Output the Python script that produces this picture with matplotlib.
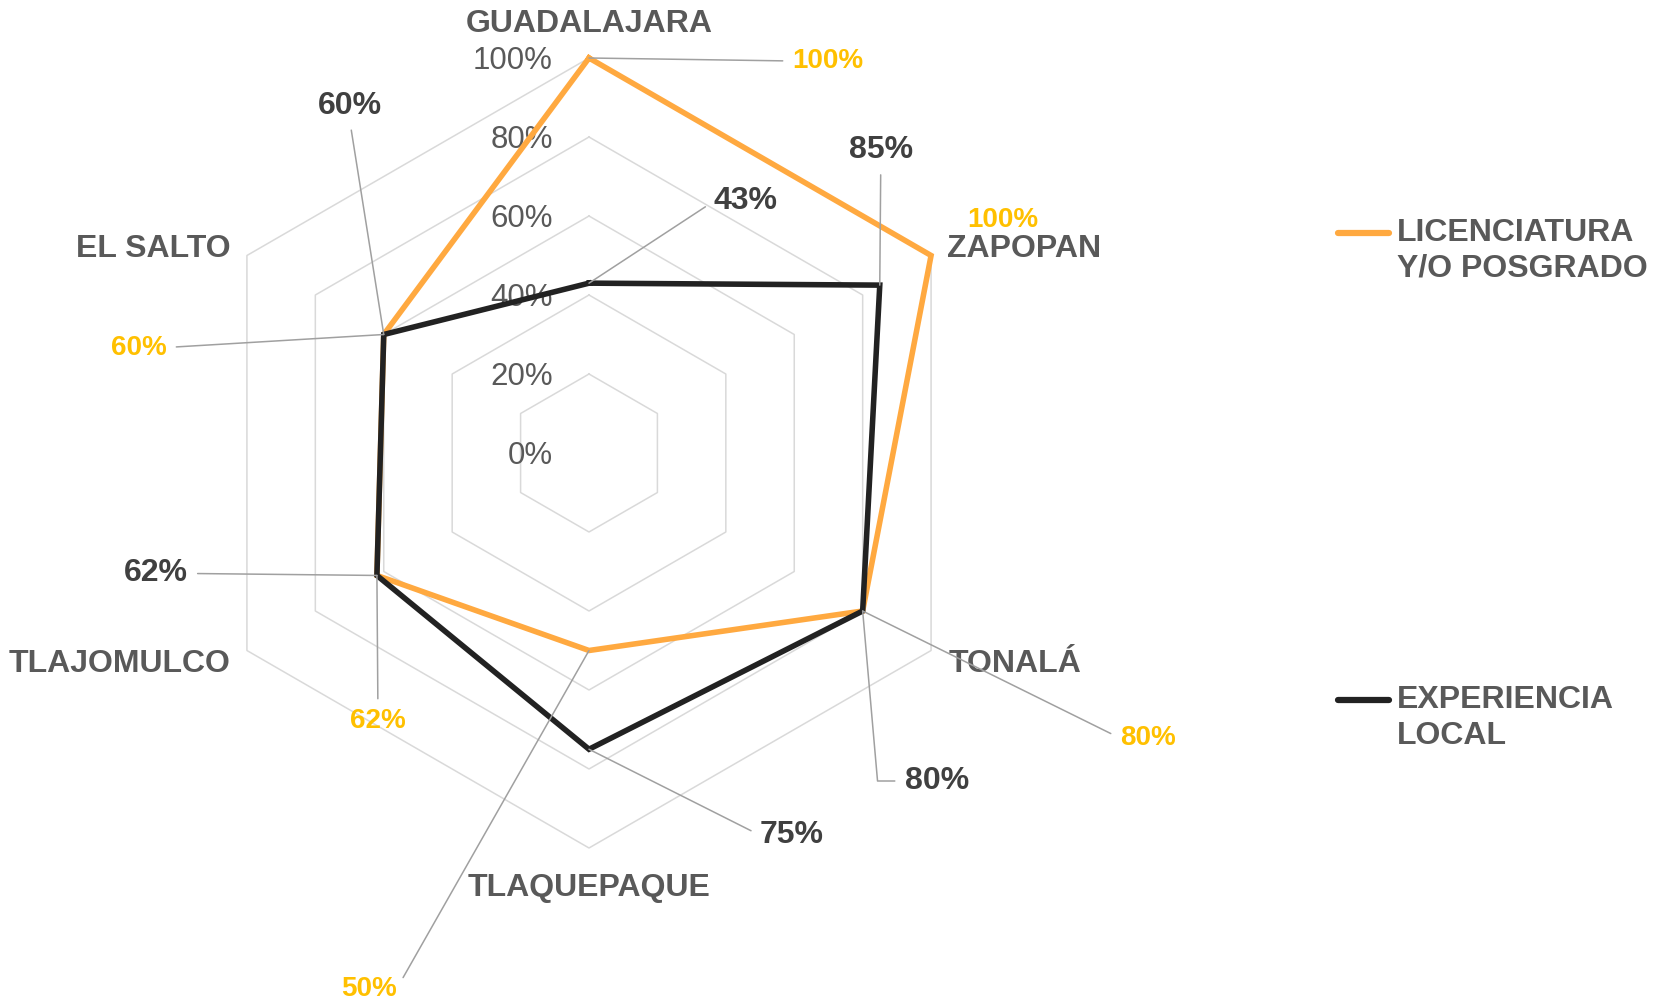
# %% LIBRARY
import numpy as np
import matplotlib
matplotlib.use("Agg")
import matplotlib.pyplot as plt
from matplotlib.lines import Line2D

plt.rcParams["font.family"] = ["Liberation Sans", "DejaVu Sans"]

# %% DATA
categorias = ["GUADALAJARA", "ZAPOPAN", "TONALÁ", "TLAQUEPAQUE", "TLAJOMULCO", "EL SALTO"]
licenciatura = [1.00, 1.00, 0.80, 0.50, 0.62, 0.60]
experiencia = [0.43, 0.85, 0.80, 0.75, 0.62, 0.60]
niveles = [0.0, 0.2, 0.4, 0.6, 0.8, 1.0]
serie_nombres = ["LICENCIATURA\nY/O POSGRADO", "EXPERIENCIA\nLOCAL"]

# %% STYLE
c_lic = "#FFA940"
c_lic_txt = "#FFC000"
c_exp = "#222222"
c_exp_txt = "#404040"
c_cat = "#595959"
c_grid = "#D9D9D9"
c_lead = "#A0A0A0"

# offsets (pixels) of labels relative to their point, plus where the leader line attaches
cat_off = [(0, 34, "center"), (16, 7, "left"), (18, -13, "left"),
           (0, -40, "center"), (-16, -13, "right"), (-16, 7, "right")]
lic_off = [(239, -3), (72, 36), (285, -127), (-220, -338), (1, -146), (-245, -13)]
lic_rel = [(0, 0.5), None, (0, 0.5), (1, 0.5), (0.5, 1), (1, 0.5)]
exp_off = [(157, 82), (1, 135), (74, -170), (203, -86), (-221, 2), (-34, 229)]
exp_rel = [(0, 0.5), (0.5, 0), (0, 0.5), (0, 0.5), (1, 0.5), (0.5, 0)]
exp_conn = ["arc3", "arc3", "angle,angleA=0,angleB=95,rad=0", "arc3", "arc3", "arc3"]

W, H = 1665, 1005
fig = plt.figure(figsize=(W / 100, H / 100), dpi=100)
ax = fig.add_axes([(589 - 395) / W, (H - 453 - 395) / H, 790 / W, 790 / H],
                  projection="polar")
ax.set_theta_zero_location("N")
ax.set_theta_direction(-1)
ax.set_ylim(0, 1)
ax.axis("off")

n = len(categorias)
theta = np.arange(n) * 2 * np.pi / n
theta_c = np.append(theta, theta[0])

# hexagonal grid
for lv in niveles[1:]:
    ax.plot(theta_c, [lv] * (n + 1), color=c_grid, lw=1.1, zorder=1, clip_on=False)

# radial tick labels
for lv in niveles:
    ax.annotate(f"{lv:.0%}", xy=(0, lv), xytext=(-36, -3), textcoords="offset pixels",
                ha="right", va="center", fontsize=22.5, color=c_cat, zorder=2)

# series
ax.plot(theta_c, np.append(licenciatura, licenciatura[0]), color=c_lic, lw=4,
        zorder=4, clip_on=False, solid_joinstyle="miter")
ax.plot(theta_c, np.append(experiencia, experiencia[0]), color=c_exp, lw=4,
        zorder=5, clip_on=False, solid_joinstyle="miter")

# category labels
for t, cat, (dx, dy, ha) in zip(theta, categorias, cat_off):
    ax.annotate(cat, xy=(t, 1.0), xytext=(dx, dy), textcoords="offset pixels",
                ha=ha, va="center", fontsize=23, fontweight="bold", color=c_cat)

# data labels
for t, v, (dx, dy), rel in zip(theta, licenciatura, lic_off, lic_rel):
    arrow = None
    if rel is not None:
        arrow = dict(arrowstyle="-", color=c_lead, lw=1.1, shrinkA=5, shrinkB=0,
                     relpos=rel)
    ax.annotate(f"{v:.0%}", xy=(t, v), xytext=(dx, dy), textcoords="offset pixels",
                ha="center", va="center", fontsize=20, fontweight="bold",
                color=c_lic_txt, zorder=6, arrowprops=arrow)

for t, v, (dx, dy), rel, cs in zip(theta, experiencia, exp_off, exp_rel, exp_conn):
    ax.annotate(f"{v:.0%}", xy=(t, v), xytext=(dx, dy), textcoords="offset pixels",
                ha="center", va="center", fontsize=23, fontweight="bold",
                color=c_exp_txt, zorder=6,
                arrowprops=dict(arrowstyle="-", color=c_lead, lw=1.1, shrinkA=5,
                                shrinkB=0, relpos=rel, connectionstyle=cs))

# legend
for nombre, col, y in zip(serie_nombres, [c_lic, c_exp], [233, 700]):
    fig.add_artist(Line2D([1338 / W, 1389 / W], [1 - y / H, 1 - y / H], color=col,
                          lw=4.5, solid_capstyle="round", transform=fig.transFigure))
    fig.text(1397 / W, 1 - (y - 15) / H, nombre, ha="left", va="top", fontsize=23,
             fontweight="bold", color=c_cat, linespacing=1.24)

fig.savefig("out.png", dpi=100)
